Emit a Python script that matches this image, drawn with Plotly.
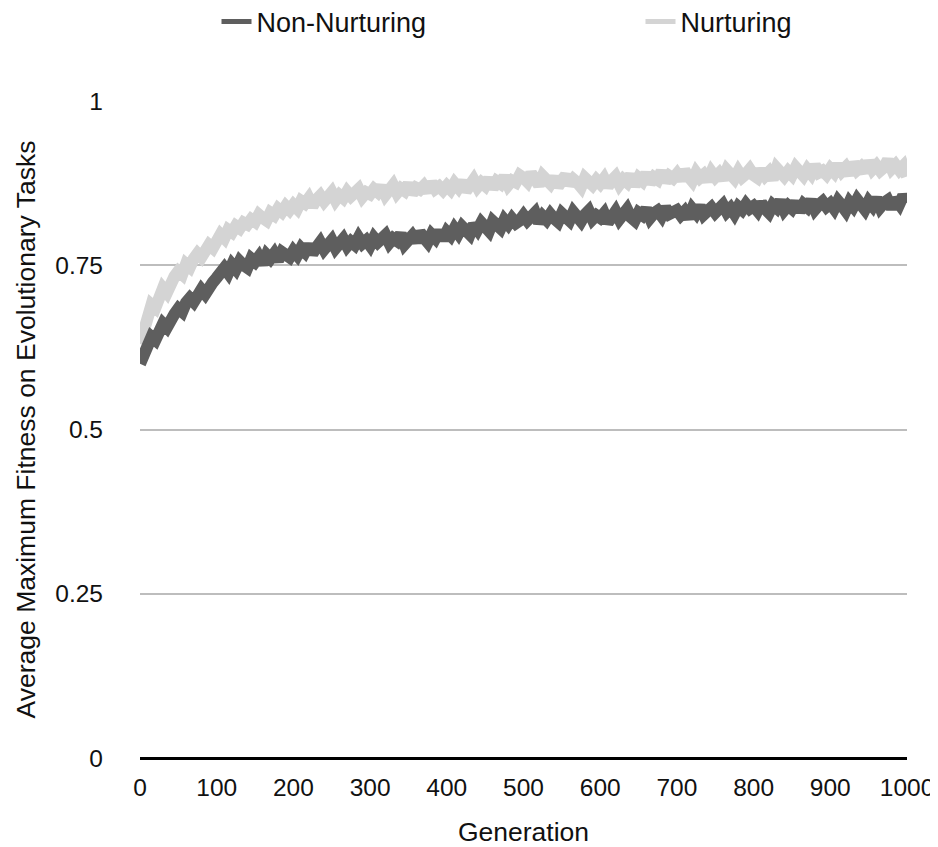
import plotly.graph_objects as go

step = 5
non_nurturing = [
    0.600,0.612,0.628,0.641,0.636,0.652,0.661,0.655,0.670,0.676,0.684,0.679,0.693,0.700,0.694,0.707,0.713,0.706,0.720,0.724,
    0.731,0.740,0.746,0.738,0.751,0.744,0.756,0.750,0.746,0.760,0.755,0.763,0.752,0.766,0.760,0.768,0.757,0.770,0.766,0.762,
    0.772,0.765,0.776,0.770,0.781,0.768,0.777,0.785,0.774,0.779,0.788,0.776,0.783,0.790,0.779,0.786,0.781,0.792,0.783,0.788,
    0.780,0.792,0.785,0.789,0.796,0.784,0.791,0.787,0.798,0.782,0.790,0.795,0.786,0.800,0.792,0.785,0.797,0.791,0.802,0.789,
    0.801,0.795,0.806,0.798,0.809,0.803,0.797,0.812,0.804,0.815,0.808,0.802,0.817,0.810,0.806,0.819,0.812,0.821,0.814,0.818,
    0.826,0.818,0.823,0.830,0.815,0.825,0.819,0.828,0.821,0.816,0.829,0.822,0.818,0.831,0.824,0.817,0.827,0.833,0.820,0.826,
    0.822,0.829,0.815,0.826,0.832,0.820,0.827,0.835,0.823,0.818,0.830,0.826,0.836,0.822,0.829,0.833,0.825,0.838,0.828,0.831,
    0.834,0.826,0.832,0.822,0.836,0.829,0.840,0.827,0.833,0.838,0.830,0.835,0.842,0.831,0.837,0.828,0.839,0.834,0.843,0.836,
    0.840,0.833,0.845,0.836,0.830,0.842,0.837,0.848,0.834,0.841,0.836,0.846,0.832,0.843,0.838,0.849,0.835,0.842,0.847,0.839,
    0.844,0.836,0.848,0.841,0.833,0.846,0.839,0.850,0.842,0.835,0.847,0.840,0.852,0.838,0.845,0.849,0.837,0.851,0.843,0.856,0.845,
]
nurturing = [
    0.630,0.655,0.672,0.690,0.685,0.702,0.715,0.708,0.726,0.733,0.741,0.736,0.752,0.747,0.760,0.768,0.762,0.775,0.781,0.776,
    0.789,0.797,0.791,0.804,0.800,0.810,0.806,0.815,0.812,0.820,0.816,0.827,0.822,0.818,0.830,0.826,0.836,0.831,0.840,0.834,
    0.842,0.836,0.848,0.844,0.852,0.840,0.850,0.856,0.847,0.853,0.861,0.849,0.857,0.852,0.862,0.855,0.859,0.866,0.854,0.861,
    0.858,0.866,0.861,0.870,0.857,0.864,0.872,0.860,0.867,0.863,0.874,0.859,0.868,0.865,0.871,0.862,0.876,0.866,0.870,0.864,
    0.871,0.865,0.875,0.868,0.878,0.863,0.873,0.880,0.869,0.876,0.871,0.882,0.867,0.878,0.874,0.885,0.872,0.879,0.876,0.887,
    0.883,0.877,0.890,0.880,0.872,0.886,0.878,0.874,0.884,0.870,0.879,0.887,0.873,0.881,0.876,0.869,0.883,0.877,0.872,0.880,
    0.874,0.882,0.870,0.879,0.885,0.873,0.881,0.876,0.888,0.871,0.883,0.878,0.890,0.875,0.884,0.880,0.893,0.877,0.886,0.882,
    0.889,0.880,0.894,0.885,0.878,0.891,0.883,0.888,0.879,0.892,0.884,0.890,0.881,0.895,0.886,0.882,0.893,0.884,0.889,0.896,
    0.887,0.883,0.895,0.886,0.892,0.881,0.898,0.889,0.885,0.893,0.887,0.899,0.890,0.886,0.896,0.889,0.902,0.891,0.894,0.888,
    0.897,0.891,0.903,0.893,0.899,0.888,0.906,0.895,0.900,0.892,0.908,0.896,0.902,0.894,0.899,0.910,0.897,0.903,0.895,0.901,0.885,
]
gen_nn = [i * step for i in range(len(non_nurturing))]
gen_n = [i * step for i in range(len(nurturing))]

x_ticks = [0, 100, 200, 300, 400, 500, 600, 700, 800, 900, 1000]
y_ticks = [0, 0.25, 0.5, 0.75, 1]
y_tick_text = ["0", "0.25", "0.5", "0.75", "1"]

FONT = "Liberation Sans, Arial, Helvetica, sans-serif"
DARK = "#5e5e5e"
LIGHT = "#d4d4d4"

fig = go.Figure()
fig.add_trace(go.Scatter(x=gen_n, y=nurturing, mode="lines", name="Nurturing",
                         line=dict(color=LIGHT, width=12), showlegend=False))
fig.add_trace(go.Scatter(x=gen_nn, y=non_nurturing, mode="lines", name="Non-Nurturing",
                         line=dict(color=DARK, width=12), showlegend=False))
# legend entries (thin line swatches like the reference)
fig.add_trace(go.Scatter(x=[None], y=[None], mode="lines", name="Non-Nurturing",
                         line=dict(color=DARK, width=5), legend="legend"))
fig.add_trace(go.Scatter(x=[None], y=[None], mode="lines", name="Nurturing",
                         line=dict(color=LIGHT, width=5), legend="legend2"))

# page body has an 8px margin, so the figure is offset by 8px in the window
W, H = 930, 839
leg_common = dict(orientation="h", xref="container", yref="container",
                  yanchor="middle", xanchor="left", y=1 - 14 / H,
                  font=dict(size=27, family=FONT, color="#111"),
                  bgcolor="rgba(0,0,0,0)")

fig.update_layout(
    width=W, height=H,
    margin=dict(l=132, r=31, t=93, b=89),
    paper_bgcolor="white", plot_bgcolor="white",
    font=dict(family=FONT, size=24, color="#111"),
    showlegend=True,
    legend=dict(x=208.5 / W, **leg_common),
    legend2=dict(x=632.5 / W, **leg_common),
    xaxis=dict(range=[0, 1000], tickvals=x_ticks, showgrid=False, zeroline=False,
               showline=False, ticks="", ticklabelstandoff=12, automargin=False,
               tickfont=dict(size=24.5),
               title=dict(text="Generation", standoff=25, font=dict(size=26.5))),
    yaxis=dict(range=[0, 1], tickvals=y_ticks, ticktext=y_tick_text,
               showgrid=True, gridcolor="#bdbdbd", gridwidth=2,
               zeroline=True, zerolinecolor="#000", zerolinewidth=3,
               showline=False, ticks="", ticklabelstandoff=36, automargin=False,
               tickfont=dict(size=24.5),
               title=dict(text="Average Maximum Fitness on Evolutionary Tasks", standoff=12,
                          font=dict(size=26.5))),
)

fig.write_html("out.html")
